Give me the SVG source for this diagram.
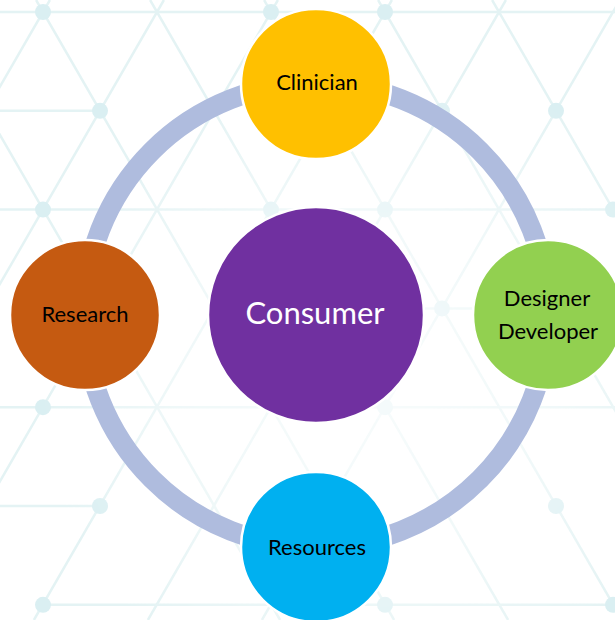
<svg xmlns="http://www.w3.org/2000/svg" width="615" height="620" viewBox="0 0 615 620">
  <defs>
    <radialGradient id="fade" cx="370" cy="380" r="330" gradientUnits="userSpaceOnUse">
      <stop offset="0" stop-color="#ffffff" stop-opacity="0.25"/>
      <stop offset="0.55" stop-color="#ffffff" stop-opacity="0.55"/>
      <stop offset="1" stop-color="#ffffff" stop-opacity="1"/>
    </radialGradient>
    <mask id="latmask" maskUnits="userSpaceOnUse" x="0" y="0" width="615" height="620">
      <rect x="0" y="0" width="615" height="620" fill="url(#fade)"/>
    </mask>
  </defs>
  <style>
    .bg { fill: #ffffff; }
    .lat { stroke: #e4f3f4; stroke-width: 2.5; fill: none; }
    .dot { fill: #daeff2; }
    .ring { stroke: #afbcde; stroke-width: 20; fill: none; }
    .node { stroke: #ffffff; stroke-width: 2.5; }
    .lbl { font-family: Lato, "Open Sans", "Liberation Sans", sans-serif; font-size: 22px; fill: #000000; text-anchor: middle; }
    .big { font-family: Lato, "Open Sans", "Liberation Sans", sans-serif; font-size: 31px; fill: #ffffff; text-anchor: middle; }
  </style>
  <rect class="bg" x="0" y="0" width="615" height="620"/>
  <g id="background" mask="url(#latmask)">
    <g class="lat">
      <line x1="0" y1="12" x2="615" y2="12"/>
      <line x1="0" y1="110.8" x2="100" y2="110.8"/>
      <line x1="0" y1="209.6" x2="615" y2="209.6"/>
      <line x1="385" y1="308.4" x2="615" y2="308.4"/>
      <line x1="0" y1="407.2" x2="615" y2="407.2"/>
      <line x1="0" y1="506" x2="100" y2="506"/>
      <line x1="43" y1="604.8" x2="615" y2="604.8"/>
      <line x1="-77.9" y1="0" x2="280.1" y2="620"/>
      <line x1="36.1" y1="0" x2="394.1" y2="620"/>
      <line x1="150.1" y1="0" x2="508.1" y2="620"/>
      <line x1="264.1" y1="0" x2="622.1" y2="620"/>
      <line x1="378.1" y1="0" x2="736.1" y2="620"/>
      <line x1="492.1" y1="0" x2="850.1" y2="620"/>
      <line x1="49.9" y1="0" x2="-308.1" y2="620"/>
      <line x1="163.9" y1="0" x2="-194.1" y2="620"/>
      <line x1="277.9" y1="0" x2="-80.1" y2="620"/>
      <line x1="391.9" y1="0" x2="33.9" y2="620"/>
      <line x1="505.9" y1="0" x2="147.9" y2="620"/>
      <line x1="619.9" y1="0" x2="261.9" y2="620"/>
    </g>
    <g>
      <circle class="dot" cx="43" cy="12" r="8"/>
      <circle class="dot" cx="271" cy="12" r="8"/>
      <circle class="dot" cx="385" cy="12" r="8"/>
      <circle class="dot" cx="100" cy="110.8" r="8"/>
      <circle class="dot" cx="442" cy="110.8" r="8"/>
      <circle class="dot" cx="556" cy="110.8" r="8"/>
      <circle class="dot" cx="43" cy="209.6" r="8"/>
      <circle class="dot" cx="271" cy="209.6" r="8"/>
      <circle class="dot" cx="385" cy="209.6" r="8"/>
      <circle class="dot" cx="613" cy="209.6" r="8"/>
      <circle class="dot" cx="442" cy="308.4" r="8"/>
      <circle class="dot" cx="43" cy="407.2" r="8"/>
      <circle class="dot" cx="385" cy="407.2" r="8"/>
      <circle class="dot" cx="100" cy="506" r="8"/>
      <circle class="dot" cx="556" cy="506" r="8"/>
      <circle class="dot" cx="43" cy="604.8" r="8"/>
      <circle class="dot" cx="385" cy="604.8" r="8"/>
      <circle class="dot" cx="613" cy="604.8" r="8"/>
    </g>
  </g>
  <g id="connectors">
    <circle class="ring" cx="316" cy="315" r="232"/>
  </g>
  <g id="consumer">
    <circle class="node" cx="316" cy="315" r="108" fill="#7030a0"/>
    <text class="big" x="315" y="324">Consumer</text>
  </g>
  <g id="clinician">
    <circle class="node" cx="316" cy="84" r="75" fill="#ffc000"/>
    <text class="lbl" x="317" y="90">Clinician</text>
  </g>
  <g id="research">
    <circle class="node" cx="85" cy="315" r="75" fill="#c55a11"/>
    <text class="lbl" x="85" y="322">Research</text>
  </g>
  <g id="designer-developer">
    <circle class="node" cx="548" cy="315" r="75" fill="#92d050"/>
    <text class="lbl" x="547" y="306">Designer</text>
    <text class="lbl" x="548" y="339">Developer</text>
  </g>
  <g id="resources">
    <circle class="node" cx="316" cy="547" r="75" fill="#00b0f0"/>
    <text class="lbl" x="317" y="554.5">Resources</text>
  </g>
</svg>
